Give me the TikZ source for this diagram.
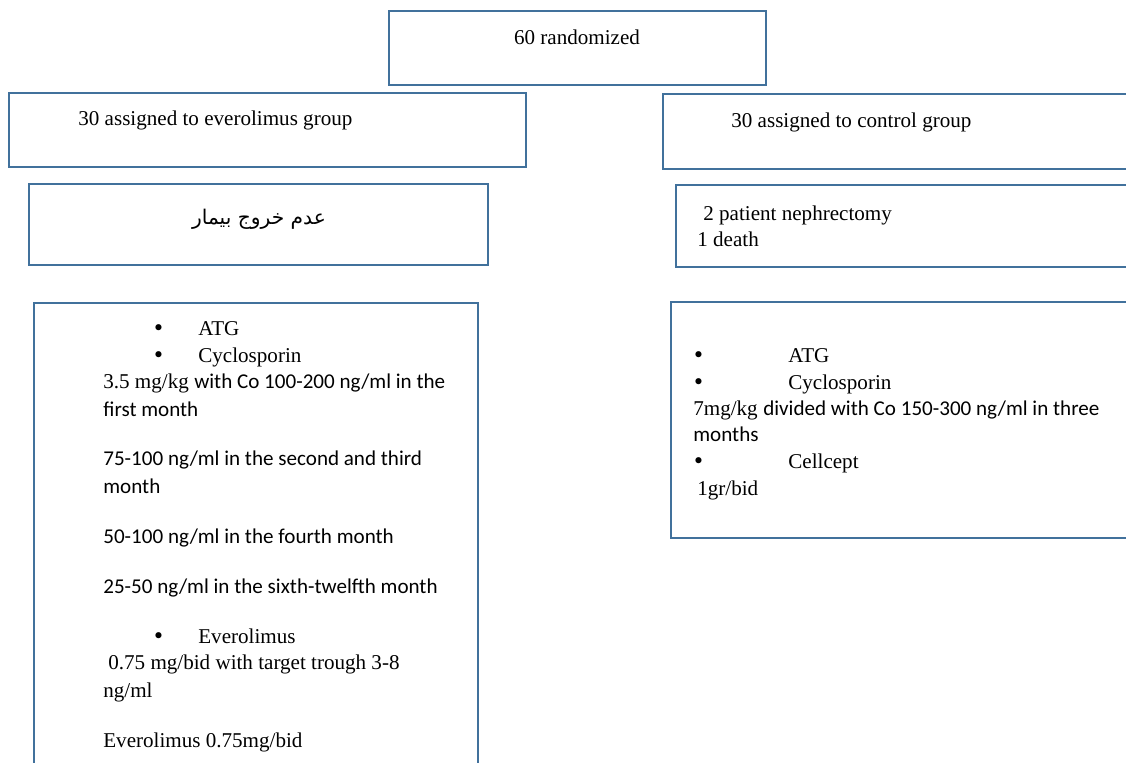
\documentclass[tikz,border=0pt]{standalone}
\usepackage{fontspec}
\setmainfont{Liberation Serif}
\newfontfamily\calibriFont{Carlito}
\newfontfamily\dejaFont{DejaVu Sans}
\newfontfamily\farsiFont[Script=Arabic]{DejaVu Sans}
\TeXXeTstate=1
\usetikzlibrary{positioning}
\definecolor{boxBlue}{RGB}{65,113,156}
\newcommand{\pxUnit}{0.02cm}
\newcommand{\bulletX}{{\dejaFont •}}

\begin{document}
\begin{tikzpicture}[x=\pxUnit, y=-\pxUnit, font=\fontsize{12}{14}\selectfont,
  flowBox/.style={draw=boxBlue, line width=1.4pt},
  txt/.style={anchor=base west, inner sep=0pt},
  cal/.style={txt, font=\fontsize{12}{14}\selectfont\calibriFont}]
\useasboundingbox (0,0) rectangle (1126,762);
\clip (0,0) rectangle (1126,762);
% boxes
\draw[flowBox] (389,11) rectangle (766,85);
\draw[flowBox] (9,93) rectangle (526,167);
\draw[flowBox] (663,94) rectangle (1150,169);
\draw[flowBox] (29,184) rectangle (488,265);
\draw[flowBox] (676,185) rectangle (1150,267);
\draw[flowBox] (34,303) rectangle (478,800);
\draw[flowBox] (671,302) rectangle (1150,538);
% top
\node (randomized) [anchor=base, inner sep=0pt] at (577,44) {60 randomized};
\node (everoGroup) [txt] at (78,125) {30 assigned to everolimus group};
\node (controlGroup) [txt] at (731,127) {30 assigned to control group};
\node (noExit) [anchor=base, inner sep=0pt] at (259,224) {\fontsize{11.5}{14}\selectfont\farsiFont\beginR عدم خروج بیمار\endR};
\node (nephrectomy) [txt] at (703,220) {2 patient nephrectomy};
\node (death) [txt] at (697,246) {1 death};
% everolimus regimen
\node (bulA) [txt] at (152,335) {\bulletX};
\node (atgL) [txt] at (198,335) {ATG};
\node (bulB) [txt] at (152,362) {\bulletX};
\node (cycloL) [txt] at (198,362) {Cyclosporin};
\node (doseL) [txt] at (103,388) {3.5 mg/kg};
\node (coL) [cal, right=0pt of doseL.base east, anchor=base west] {\ with Co 100-200 ng/ml in the};
\node (firstL) [cal] at (103,416) {first month};
\node (secondL) [cal] at (103,465) {75-100 ng/ml in the second and third};
\node (monthL) [cal] at (103,493) {month};
\node (fourthL) [cal] at (103,543) {50-100 ng/ml in the fourth month};
\node (sixthL) [cal] at (103,593) {25-50 ng/ml in the sixth-twelfth month};
\node (bulC) [txt] at (152,643) {\bulletX};
\node (everoL) [txt] at (198,643) {Everolimus};
\node (troughL) [txt] at (108,669) {0.75 mg/bid with target trough 3-8};
\node (ngmlL) [txt] at (103,697) {ng/ml};
\node (everoDose) [txt] at (103,747) {Everolimus 0.75mg/bid};
% control regimen
\node (bulD) [txt] at (692,362) {\bulletX};
\node (atgR) [txt] at (788,362) {ATG};
\node (bulE) [txt] at (692,389) {\bulletX};
\node (cycloR) [txt] at (788,389) {Cyclosporin};
\node (doseR) [txt] at (693,415) {7mg/kg};
\node (coR) [cal, right=0pt of doseR.base east, anchor=base west] {\ divided with Co 150-300 ng/ml in three};
\node (monthsR) [cal] at (693,441) {months};
\node (bulF) [txt] at (692,468) {\bulletX};
\node (cellcept) [txt] at (788,468) {Cellcept};
\node (cellDose) [txt] at (697,495) {1gr/bid};
\end{tikzpicture}
\end{document}
